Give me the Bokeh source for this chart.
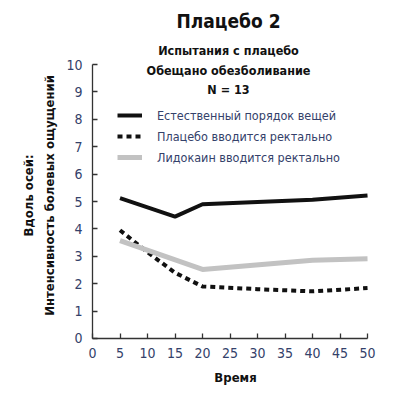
import math
from bokeh.plotting import figure
from bokeh.models import Range1d, Legend, LegendItem, Label, FixedTicker
from bokeh.embed import file_html
from bokeh.resources import INLINE

title = "Плацебо 2"
subtitle = ["Испытания с плацебо", "Обещано обезболивание", "N = 13"]
x_label = "Время"
y_label = ["Вдоль осей:", "Интенсивность болевых ощущений"]

natural_x = [5, 15, 20, 40, 50]
natural_y = [5.12, 4.45, 4.9, 5.06, 5.22]
placebo_x = [5, 10, 15, 20, 30, 40, 50]
placebo_y = [3.95, 3.15, 2.4, 1.9, 1.8, 1.72, 1.84]
lido_x = [5, 20, 40, 50]
lido_y = [3.57, 2.52, 2.86, 2.91]
names = ["Естественный порядок вещей", "Плацебо вводится ректально", "Лидокаин вводится ректально"]
x_ticks = list(range(0, 51, 5))
y_ticks = list(range(0, 11))

FONT = "DejaVu Sans Condensed"
TXT = "#34416a"

p = figure(width=402, height=394, output_backend="svg", toolbar_location=None,
           x_range=Range1d(-16.727, 56.36), y_range=Range1d(-2.044, 12.336),
           min_border=0)
p.outline_line_color = None
p.grid.grid_line_color = None
p.background_fill_color = "white"

r1 = p.line(natural_x, natural_y, line_color="#111111", line_width=4)
r2 = p.line(placebo_x, placebo_y, line_color="#111111", line_width=4, line_dash="5 4")
r3 = p.line(lido_x, lido_y, line_color="#c2c2c2", line_width=5)

for ax in [p.xaxis[0], p.yaxis[0]]:
    ax.fixed_location = 0
    ax.axis_line_color = "#333333"
    ax.axis_line_width = 1.3
    ax.major_tick_line_color = "#333333"
    ax.major_tick_line_width = 1.3
    ax.major_tick_in = 5
    ax.major_tick_out = 0
    ax.minor_tick_line_color = None
    ax.major_label_text_font = FONT
    ax.major_label_text_font_size = "14px"
    ax.major_label_text_color = TXT

p.xaxis.ticker = FixedTicker(ticks=x_ticks)
p.yaxis.ticker = FixedTicker(ticks=y_ticks)
p.xaxis.bounds = (0, 50)
p.yaxis.bounds = (0, 10)
p.xaxis.major_label_standoff = 10
p.yaxis.major_label_standoff = 10

legend = Legend(items=[LegendItem(label=names[0], renderers=[r1]),
                       LegendItem(label=names[1], renderers=[r2]),
                       LegendItem(label=names[2], renderers=[r3])],
                location=(117, 227), padding=0, margin=0, spacing=1,
                glyph_width=25, glyph_height=20, label_height=20, label_standoff=15,
                label_text_font=FONT, label_text_font_size="12.5px", label_text_color=TXT,
                border_line_color=None, background_fill_alpha=0)
p.add_layout(legend)

def lab(x, y, text, size, angle=0.0):
    p.add_layout(Label(x=x, y=y, text=text, text_font=FONT, text_font_style="bold",
                       text_font_size=size, text_align="center", text_baseline="middle",
                       text_color="#111111", angle=angle))

lab(24.73, 11.6, title, "19px")
for i, s in enumerate(subtitle):
    lab(24.73, [10.51, 9.78, 9.09][i], s, "12.5px")
lab(26.0, -1.42, x_label, "13px")
lab(-11.64, 5.22, y_label[0], "13px", math.pi / 2)
lab(-7.82, 5.22, y_label[1], "13px", math.pi / 2)

open("out.html", "w").write(file_html(p, INLINE))
